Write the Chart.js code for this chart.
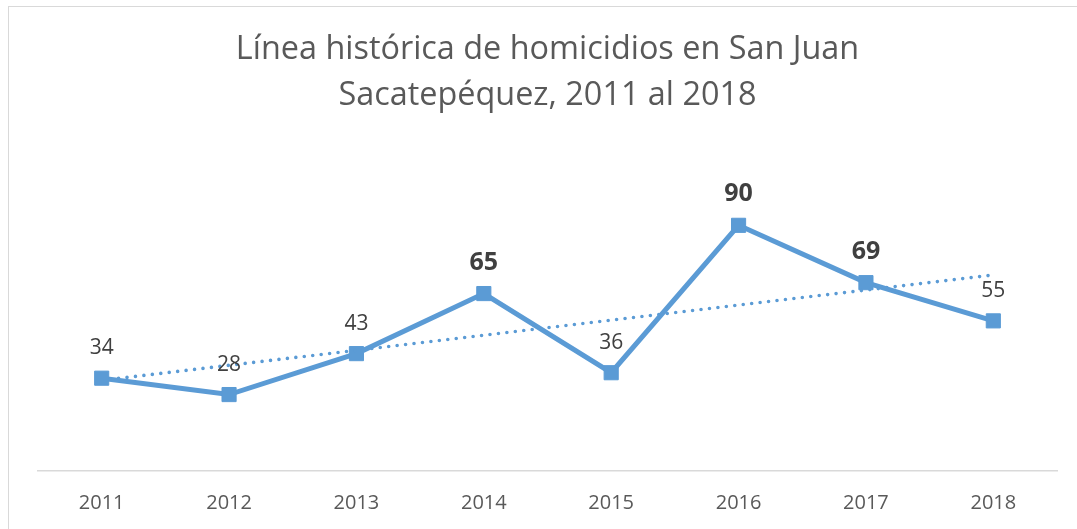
<!DOCTYPE html>
<html>
<head>
<meta charset="utf-8">
<script src="https://cdn.jsdelivr.net/npm/chart.js@4"></script>
<style>
  html, body { margin: 0; padding: 0; background: #fff; overflow: hidden; }
  #frame { position: absolute; left: 8px; top: 6px; width: 1200px; height: 700px; border: 1px solid #d9d9d9; }
  #homChart { position: absolute; left: 0; top: 0; }
</style>
</head>
<body>
<div id="frame"></div>
<canvas id="homChart" width="1077" height="529"></canvas>
<script>
// datos
const years = ['2011', '2012', '2013', '2014', '2015', '2016', '2017', '2018'];
const homicidios = [34, 28, 43, 65, 36, 90, 69, 55];
const highlightYears = ['2014', '2016', '2017'];
const trendEnds = [33.2, 71.8];

const trendData = years.map(function (y, i) {
    if (i === 0) return trendEnds[0];
    if (i === years.length - 1) return trendEnds[1];
    return null;
});

const blue = '#5B9BD5';

const valueLabels = {
    id: 'valueLabels',
    afterDatasetsDraw: function (chart) {
        const ctx = chart.ctx;
        const meta = chart.getDatasetMeta(0);
        ctx.save();
        ctx.textAlign = 'center';
        ctx.textBaseline = 'alphabetic';
        meta.data.forEach(function (pt, i) {
            const bold = highlightYears.indexOf(years[i]) >= 0;
            ctx.font = bold ? 'bold 25px "Open Sans"' : '21px "Open Sans"';
            ctx.fillStyle = '#404040';
            ctx.fillText(String(homicidios[i]), pt.x, pt.y - 24);
        });
        ctx.restore();
    }
};

let homChart = new Chart(document.getElementById('homChart').getContext('2d'), {
    type: 'line'
    , data: {
        labels: years
        , datasets: [{
            label: 'Homicidios'
            , data: homicidios
            , borderColor: blue
            , backgroundColor: blue
            , borderWidth: 5
            , pointStyle: 'rect'
            , pointRadius: 10
            , pointBorderWidth: 1
            , pointBackgroundColor: blue
            , pointBorderColor: blue
            , tension: 0
            , order: 1
        }, {
            label: 'Lineal (Homicidios)'
            , data: trendData
            , spanGaps: true
            , borderColor: blue
            , borderWidth: 3.6
            , borderDash: [0, 8.5]
            , borderCapStyle: 'round'
            , pointRadius: 0
            , order: 0
        }]
    }
    , options: {
        responsive: false
        , animation: false
        , layout: { padding: { left: 38, right: 20, top: 0, bottom: -6 } }
        , plugins: {
            legend: { display: false }
            , tooltip: { enabled: false }
            , title: {
                display: true
                , text: ['Línea histórica de homicidios en San Juan', 'Sacatepéquez, 2011 al 2018']
                , color: '#595959'
                , font: { family: 'Open Sans', size: 32.4, weight: 'normal', lineHeight: 1.42 }
                , padding: { top: 27, bottom: 79 }
            }
        }
        , scales: {
            x: {
                offset: true
                , grid: { display: false, drawTicks: false }
                , border: { display: true, color: '#d9d9d9', width: 1.5 }
                , ticks: { color: '#595959', font: { family: 'Open Sans', size: 20 }, padding: 20 }
            }
            , y: {
                display: false
                , min: 0
                , max: 100
            }
        }
    }
    , plugins: [valueLabels]
});
</script>
</body>
</html>
